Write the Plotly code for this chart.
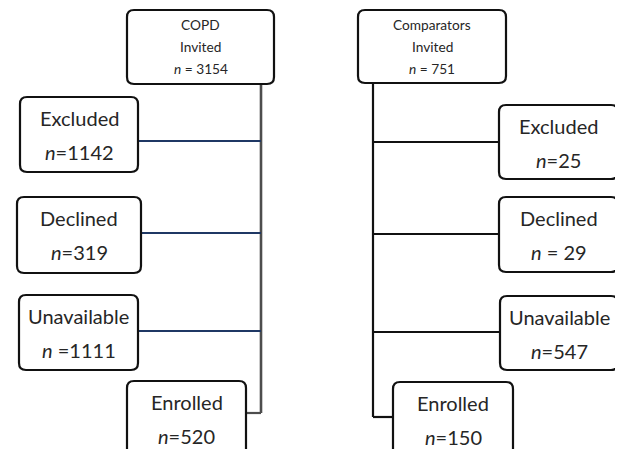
import plotly.graph_objects as go

# ---- data ----
groups = ["COPD", "Comparators"]
invited_label = "Invited"
invited_n = [3154, 751]
invited_sep = [" = ", " = "]
stages = ["Excluded", "Declined", "Unavailable", "Enrolled"]
copd_n = [1142, 319, 1111, 520]
copd_sep = ["=", "=", " =", "="]
comp_n = [25, 29, 547, 150]
comp_sep = ["=", " = ", "=", "="]

# ---- layout geometry (pixels, y downward) ----
W, H = 623, 449
OFF = 8  # page body margin
FONT = "Lato, Calibri, Arial, sans-serif"
TXT = "#262626"

top_boxes = [(127, 274, 10, 84), (358, 506, 10, 83)]
spine = [dict(x=261, y0=84, y1=413, color="#4d4d4d", w=2.6),
         dict(x=373, y0=83, y1=417, color="#111111", w=2.2)]
copd_boxes = [(20, 138, 97, 172), (17, 141, 197, 273), (19, 138, 295, 370), (127, 246, 381, 470)]
comp_boxes = [(499, 618, 105, 179), (499, 618, 197, 272), (500, 618, 296, 370), (393, 513, 382, 470)]
copd_links_y = [141, 233, 331, 413]
comp_links_y = [142, 234, 332, 417]
copd_link_color = ["#1f3864", "#1f3864", "#1f3864", "#4d4d4d"]
comp_link_color = ["#111111"] * 4


def rrect(x0, x1, y0, y1, r=7):
    return (f"M {x0+r},{y0} L {x1-r},{y0} Q {x1},{y0} {x1},{y0+r} "
            f"L {x1},{y1-r} Q {x1},{y1} {x1-r},{y1} L {x0+r},{y1} "
            f"Q {x0},{y1} {x0},{y1-r} L {x0},{y0+r} Q {x0},{y0} {x0+r},{y0} Z")


shapes = []
annotations = []


def box(b, lw=2.2):
    shapes.append(dict(type="path", path=rrect(*b), xref="x", yref="y",
                       line=dict(color="#111111", width=lw), fillcolor="white", layer="above"))


def text(x, y, t, size):
    annotations.append(dict(x=x, y=y, xref="x", yref="y", text=t, showarrow=False,
                            font=dict(family=FONT, size=size, color=TXT),
                            xanchor="center", yanchor="middle"))


# spines
for s in spine:
    shapes.append(dict(type="line", x0=s["x"], x1=s["x"], y0=s["y0"], y1=s["y1"],
                       xref="x", yref="y", line=dict(color=s["color"], width=s["w"]), layer="below"))

# connectors
for i, y in enumerate(copd_links_y):
    b = copd_boxes[i]
    shapes.append(dict(type="line", x0=b[1], x1=spine[0]["x"], y0=y, y1=y, xref="x", yref="y",
                       line=dict(color=copd_link_color[i], width=2.2), layer="below"))
for i, y in enumerate(comp_links_y):
    b = comp_boxes[i]
    shapes.append(dict(type="line", x0=spine[1]["x"], x1=b[0], y0=y, y1=y, xref="x", yref="y",
                       line=dict(color=comp_link_color[i], width=2.2), layer="below"))

# top boxes
for g, b, n, sep in zip(groups, top_boxes, invited_n, invited_sep):
    box(b)
    cx = (b[0] + b[1]) / 2
    text(cx, b[2] + 14, g, 13.7)
    text(cx, b[2] + 36, invited_label, 13.7)
    text(cx, b[2] + 58, f"<i>n</i>{sep}{n}", 13.7)

# stage boxes
for boxes, ns, seps in ((copd_boxes, copd_n, copd_sep), (comp_boxes, comp_n, comp_sep)):
    for st, b, n, sep in zip(stages, boxes, ns, seps):
        box(b)
        cx = (b[0] + b[1]) / 2
        text(cx, b[2] + 21, st, 20)
        text(cx, b[2] + 55, f"<i>n</i>{sep}{n}", 20)

fig = go.Figure()
fig.add_trace(go.Scatter(x=[OFF, W + OFF], y=[OFF, H + OFF], mode="markers", marker=dict(opacity=0),
                         hoverinfo="skip", showlegend=False))
fig.update_layout(
    width=W, height=H, margin=dict(l=0, r=0, t=0, b=0),
    paper_bgcolor="white", plot_bgcolor="white",
    xaxis=dict(range=[OFF, W + OFF], visible=False, fixedrange=True),
    yaxis=dict(range=[H + OFF, OFF], visible=False, fixedrange=True),
    shapes=shapes, annotations=annotations, showlegend=False,
)
fig.write_html("out.html")
